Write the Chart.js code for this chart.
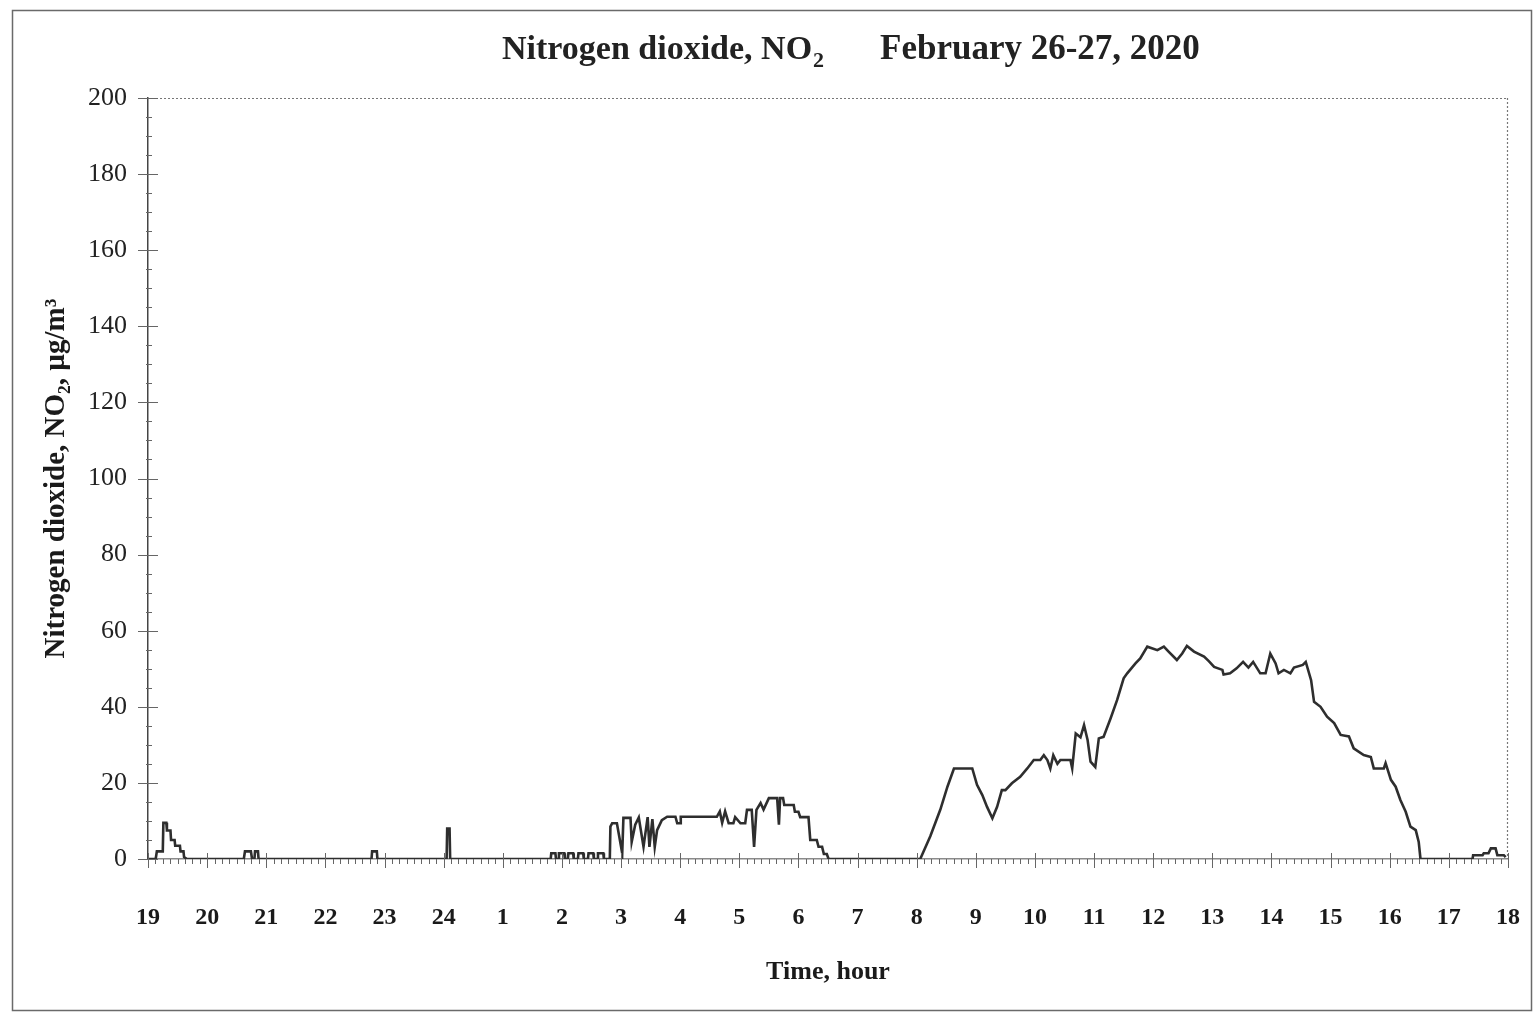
<!DOCTYPE html>
<html>
<head>
<meta charset="utf-8">
<script src="https://cdn.jsdelivr.net/npm/chart.js@4"></script>
<style>
html,body{margin:0;padding:0;background:#fff;}
#wrap{position:relative;width:1535px;height:1013px;}
</style>
</head>
<body>
<div id="wrap"><canvas id="c" width="1535" height="1013"></canvas></div>
<script>
// ---- data (hours since 19:00, NO2 in µg/m3) ----
const hourLabels = ['19','20','21','22','23','24','1','2','3','4','5','6','7','8','9','10','11','12','13','14','15','16','17','18'];
const yTickValues = [0,20,40,60,80,100,120,140,160,180,200];
const times = [
 0,0.13,0.15,0.25,0.26,0.31,0.32,0.38,0.39,0.45,0.46,0.54,0.55,0.60,0.61,0.66,
 1.62,1.64,1.74,1.76,1.80,1.81,1.86,1.87,
 3.78,3.79,3.87,3.88,
 5.05,5.06,5.10,5.11,
 6.81,6.82,6.89,6.90, 6.94,6.95,7.04,7.05, 7.10,7.11,7.19,7.20, 7.27,7.28,7.36,7.37, 7.44,7.45,7.53,7.54, 7.60,7.61,7.70,7.71,
 7.81,7.82,7.85,7.93,8.02,8.04,8.16,8.18,8.24,8.30,8.38,8.45,8.48,8.53,8.57,8.61,8.69,8.78,8.92,8.95,9.00,9.01,
 9.62,9.67,9.71,9.76,9.82,9.90,9.93,10.02,10.10,10.13,10.21,10.25,10.29,10.36,10.41,10.50,10.64,10.67,10.69,10.74,
 10.76,10.92,10.94,11.00,11.03,11.17,11.20,11.31,11.34,11.40,11.43,11.48,11.51,
 13.06,13.23,13.40,13.52,13.63,13.94,14.02,14.11,14.19,14.28,14.36,14.44,14.50,14.61,14.75,14.87,14.98,15.09,15.15,
 15.21,15.26,15.31,15.38,15.43,15.60,15.63,15.69,15.77,15.83,15.89,15.94,16.02,16.08,16.16,16.28,16.39,16.50,16.56,
 16.70,16.78,16.90,17.07,17.18,17.26,17.40,17.49,17.57,17.69,17.86,17.94,18.03,18.17,18.19,18.30,18.41,18.52,18.61,
 18.69,18.81,18.90,18.98,19.07,19.12,19.21,19.32,19.38,19.53,19.58,19.67,19.72,19.83,19.94,20.06,20.17,20.31,20.39,
 20.56,20.68,20.73,20.90,20.93,21.02,21.10,21.18,21.27,21.35,21.44,21.49,21.52,
 22.40,22.41,22.57,22.59,22.67,22.71,22.79,22.82,22.93,22.96
];
const no2 = [
 0,0,2,2,9.5,9.5,7.5,7.5,5,5,3.5,3.5,2,2,0.5,0,
 0,2,2,0,0,2,2,0,
 0,2,2,0,
 0,8,8,0,
 0,1.5,1.5,0, 0,1.5,1.5,0, 0,1.5,1.5,0, 0,1.5,1.5,0, 0,1.5,1.5,0, 0,1.5,1.5,0,
 0,8.5,9.4,9.4,1.5,10.8,10.8,4.5,9,10.9,3.2,11,3.2,10.5,3.2,7.6,10.2,11.1,11.1,9.4,9.4,11.1,
 11.1,12.5,9.5,12.5,9.4,9.4,11,9.4,9.4,12.9,12.9,3.2,12.9,14.7,13,16,16,9,16,16,
 14.2,14.2,12.4,12.4,11,11,5,5,3.2,3.2,1.3,1.3,0,
 0,6,13,19,23.8,23.8,19.5,16.8,13.7,10.7,13.7,18.1,18.1,19.9,21.6,23.8,26,26,27.3,
 26,23.8,27.3,25,26,26,23.8,33,32,35.2,31.3,25.6,24.2,31.7,32.1,37,41.8,47.5,48.8,
 51.4,52.7,55.8,54.9,55.8,54.5,52.3,54,56,54.5,53.2,52,50.5,49.7,48.5,48.8,50.1,51.8,50.3,
 51.8,48.8,48.8,54,51.4,48.8,49.7,48.8,50.3,51,51.8,47,41.3,40,37.4,35.7,32.6,32.2,29.1,
 27.3,26.8,23.8,23.8,25.2,20.8,19,15.5,12.4,8.5,7.6,4.5,0,
 0,1,1,1.5,1.5,2.8,2.8,1,1,0.5
];

const SERIF = '"Liberation Serif","Times New Roman",serif';

const decor = {
  id: 'decor',
  beforeDraw(chart) {
    const ctx = chart.ctx;
    ctx.save();
    ctx.fillStyle = '#fff';
    ctx.fillRect(0, 0, chart.width, chart.height);
    ctx.strokeStyle = '#6a6a6a';
    ctx.lineWidth = 1.5;
    ctx.strokeRect(12.5, 10.5, 1519, 1000);
    ctx.restore();
  },
  afterDraw(chart) {
    const ctx = chart.ctx;
    const a = chart.chartArea;
    const xs = chart.scales.x, ys = chart.scales.y;
    ctx.save();
    // dotted top & right borders of the plot
    ctx.strokeStyle = '#777';
    ctx.lineWidth = 1.2;
    ctx.setLineDash([2, 2]);
    ctx.beginPath();
    ctx.moveTo(a.left, a.top + 0.5); ctx.lineTo(a.right, a.top + 0.5);
    ctx.moveTo(a.right - 0.5, a.top); ctx.lineTo(a.right - 0.5, a.bottom);
    ctx.stroke();
    ctx.setLineDash([]);
    // y ticks
    ctx.strokeStyle = '#666';
    ctx.lineWidth = 1;
    ctx.beginPath();
    for (let v = 0; v <= 200; v += 5) {
      const y = Math.round(ys.getPixelForValue(v)) + 0.5;
      if (v % 20 === 0) { ctx.moveTo(a.left - 10, y); ctx.lineTo(a.left + 10, y); }
      else { ctx.moveTo(a.left - 2, y); ctx.lineTo(a.left + 4, y); }
    }
    // x ticks
    for (let i = 0; i <= 23 * 8; i++) {
      const x = Math.round(xs.getPixelForValue(i / 8)) + 0.5;
      if (i % 8 === 0) { ctx.moveTo(x, a.bottom - 6); ctx.lineTo(x, a.bottom + 9); }
      else { ctx.moveTo(x, a.bottom); ctx.lineTo(x, a.bottom + 5); }
    }
    ctx.stroke();
    // title
    ctx.fillStyle = '#222';
    ctx.textBaseline = 'alphabetic';
    ctx.textAlign = 'left';
    ctx.font = 'bold 34px ' + SERIF;
    const t1 = 'Nitrogen dioxide, NO';
    ctx.fillText(t1, 502, 59);
    const w1 = ctx.measureText(t1).width;
    ctx.font = 'bold 22px ' + SERIF;
    ctx.fillText('2', 502 + w1 + 1, 67);
    ctx.font = 'bold 35px ' + SERIF;
    ctx.textAlign = 'left';
    ctx.fillText('February 26-27, 2020', 880, 59);
    ctx.restore();
  }
};

new Chart(document.getElementById('c'), {
  type: 'line',
  data: {
    datasets: [{
      data: times.map((t, i) => ({x: t, y: no2[i]})),
      borderColor: '#2e2e2e',
      borderWidth: 2.6,
      pointRadius: 0,
      tension: 0,
      fill: false
    }]
  },
  options: {
    responsive: false,
    animation: false,
    events: [],
    layout: {padding: {left: 12, right: 27, top: 98, bottom: 0}},
    plugins: {legend: {display: false}, tooltip: {enabled: false}, title: {display: false}},
    scales: {
      x: {
        type: 'linear', min: 0, max: 23,
        afterFit: s => { s.height = 154; s.paddingLeft = 0; s.paddingRight = 0; },
        afterBuildTicks: s => { s.ticks = hourLabels.map((_, i) => ({value: i})); },
        ticks: {
          autoSkip: false, maxRotation: 0, padding: 44,
          color: '#1a1a1a',
          font: {family: SERIF, size: 24, weight: 'bold'},
          callback: v => hourLabels[Math.round(v)]
        },
        grid: {display: false, drawTicks: false},
        border: {display: true, color: '#8a8a8a', width: 1.5},
        title: {display: true, text: 'Time, hour', color: '#1a1a1a',
          font: {family: SERIF, size: 26, weight: 'bold'}, padding: {top: 25, bottom: 25}}
      },
      y: {
        min: 0, max: 200,
        afterFit: s => { s.width = 136; s.paddingTop = 0; s.paddingBottom = 0; },
        afterBuildTicks: s => { s.ticks = yTickValues.map(v => ({value: v})); },
        ticks: {
          padding: 21, color: '#222',
          font: {family: SERIF, size: 26}
        },
        grid: {display: false, drawTicks: false},
        border: {display: true, color: '#444', width: 1.5},
        title: {display: true, text: 'Nitrogen dioxide, NO\u2082, \u00B5g/m\u00B3', color: '#1a1a1a',
          font: {family: SERIF, size: 29, weight: 'bold'}, padding: {top: 27, bottom: 27}}
      }
    }
  },
  plugins: [decor]
});
</script>
</body>
</html>
